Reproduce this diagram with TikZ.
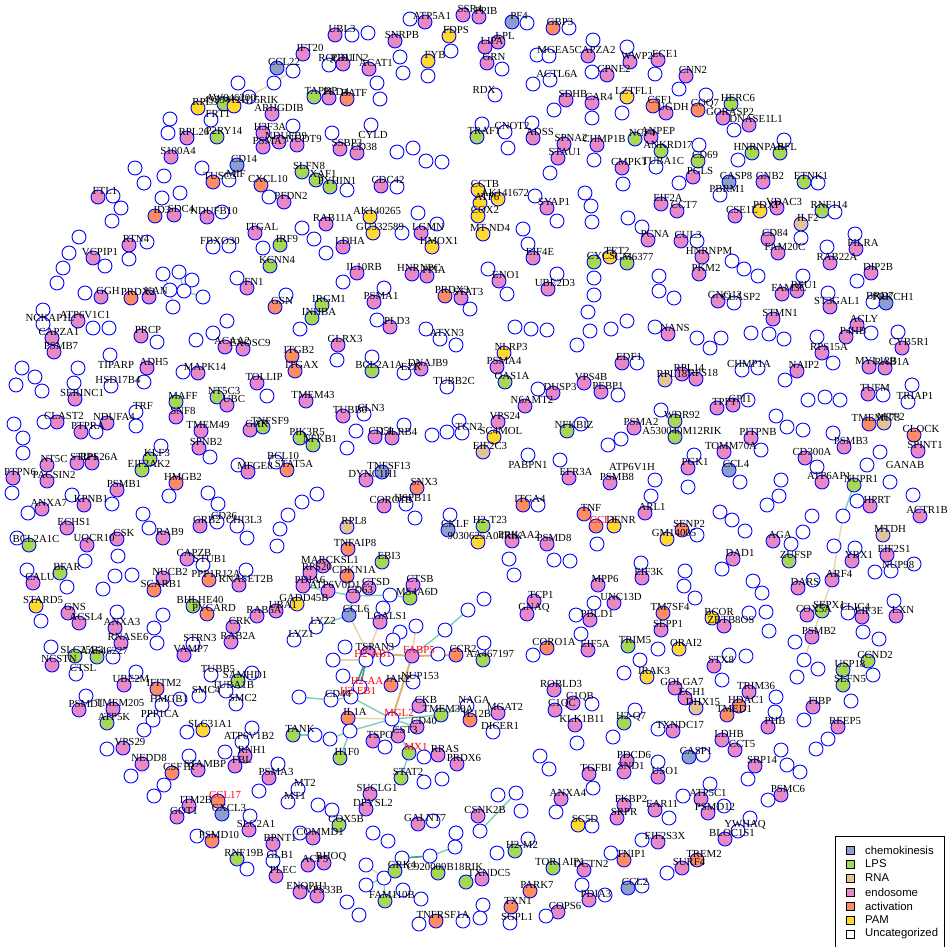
\documentclass[tikz,border=0pt]{standalone}
\usepackage{fontspec}
\setmainfont{Liberation Serif}
\newfontfamily\legfont{Liberation Sans}
\pgfdeclarelayer{bg}
\pgfsetlayers{bg,main}
\definecolor{cu}{HTML}{FFFFFF}
\definecolor{cc}{HTML}{8DA0CB}
\definecolor{cl}{HTML}{A6D854}
\definecolor{cr}{HTML}{E5C494}
\definecolor{ce}{HTML}{E78AC3}
\definecolor{ca}{HTML}{FC8D62}
\definecolor{cp}{HTML}{FFD92F}
\definecolor{edteal}{HTML}{7FCDB8}
\definecolor{eddark}{HTML}{3E9E8A}
\definecolor{edtan}{HTML}{EAD2A6}
\definecolor{edtand}{HTML}{D8B46E}
\definecolor{vblue}{HTML}{0000FF}
\tikzset{
  vtx/.style={circle,draw=vblue,line width=0.9pt,minimum size=14pt,inner sep=0pt},
  lbl/.style={inner sep=0pt,font=\fontsize{10.8}{12}\selectfont,text=black},
  eteal/.style={draw=edteal,line width=1.4pt},
  edark/.style={draw=eddark,line width=1.6pt},
  etan/.style={draw=edtan,line width=1.4pt},
  etand/.style={draw=edtand,line width=2pt},
  legsq/.style={draw=black,line width=0.5pt,minimum size=8pt,inner sep=0pt},
  legtx/.style={anchor=west,inner sep=0pt,font=\legfont\fontsize{11.3}{13}\selectfont}
}
\newcommand\genlist{
425/22/e/ATP5A1,410/19/u/{},463/15/e/SSR4,479/17/e/PPIB,335/35/e/UBL3,352/35/u/{},368/33/u/{},395/41/e/SNRPB,
449/36/p/FDPS,451/51/u/{},428/61/p/FYB,400/57/u/{},403/73/u/{},428/76/u/{},303/54/e/IFT20,329/65/u/RQCD1,
343/64/e/PDLIN2,369/69/e/ACAT1,277/68/c/CCL22,274/83/u/{},238/83/u/{},198/108/p/RPL3,
224/104/l/AW046200,234/106/p/4933412H15RIK,170/119/u/{},168/133/u/{},272/114/e/ARHGDIB,
314/97/l/TAPBP,329/98/e/PLD4,347/99/a/BATF,380/99/u/{},377/83/u/{},187/138/e/RPL26,217/137/l/P2RY14,
293/126/u/{},263/133/e/H3F3A,279/142/e/NDUFB9,263/147/e/PSMA7,297/145/e/NUDT9,332/133/u/{},371/125/u/{},
340/149/e/SSBP3,357/153/e/CD38,397/152/u/{},413/148/u/{},426/161/u/{},442/162/u/{},171/157/e/S100A4,
237/165/c/CD14,202/168/u/{},213/182/a/TUSC3,229/180/u/MIF,261/185/a/CXCL10,302/172/l/SLFN8,316/180/l/XAF1,
330/187/l/PYHIN1,347/190/u/{},381/186/e/CDC42,397/187/u/{},98/197/e/FTL1,113/196/u/{},121/208/u/{},112/221/u/{},
135/168/u/{},144/183/u/{},164/176/u/{},162/198/u/{},180/193/u/{},155/216/a/ID3,174/215/e/SDC4,207/217/e/NDUFB10,
222/212/u/{},284/202/e/PFDN2,269/197/u/{},326/224/e/RAB11A,302/228/u/{},314/239/u/{},326/253/u/{},
370/217/p/AK140265,373/233/p/GU332589,421/233/e/LGMN,402/233/u/{},418/213/u/{},437/224/u/{},432/247/p/HMOX1,
343/247/e/LDHA,255/233/e/ITGAL,280/245/l/IRF9,263/248/u/{},270/266/l/KCNN4,213/247/u/FBXO30,229/246/u/{},
129/245/e/RTN4,147/242/u/{},129/259/u/{},93/258/e/VCPIP1,105/266/u/{},79/237/u/{},69/253/u/{},63/268/u/{},57/283/u/{},
357/273/e/IL10RB,343/282/u/{},412/274/e/HNRNPC,427/276/e/PPIA,247/288/e/FN1,237/278/u/{},101/297/e/GGH,
131/298/a/PRDX2,149/297/e/KAN,85/293/u/{},275/307/a/GSN,286/295/u/{},322/305/l/IRGM1,312/318/l/INHBA,300/329/u/{},
374/302/e/PSMA1,384/288/u/{},445/296/a/PRDX3,461/298/e/STAT3,470/309/u/{},390/327/e/PLD3,377/320/u/{},
440/339/u/ATXN3,426/329/u/{},456/345/u/{},43/310/u/{},43/324/u/NCKAP1L,78/321/e/ATP6V1C1,93/328/u/{},109/328/u/{},
52/338/e/CAPZA1,54/352/e/PSMB7,141/336/e/PRCP,157/342/u/{},225/347/e/ACAA2,243/349/e/EXOSC9,196/340/u/{},
213/333/u/{},227/321/u/{},292/356/a/ITGB2,295/371/a/ITGAX,338/345/e/GLRX3,337/360/u/{},372/371/l/BCL2A1A,
372/357/u/{},421/369/e/DNAJB9,404/373/u/EZR,447/387/u/TUBB2C,110/355/u/{},147/368/e/ADH5,111/386/u/HSD17B4,
144/382/u/{},198/373/e/MAPK14,183/372/u/{},257/383/e/TOLLIP,267/396/u/{},22/368/u/{},35/377/u/{},16/385/u/{},
42/391/u/{},78/368/u/{},74/383/u/{},75/399/e/SERINC1,217/397/l/NT5C3,227/405/e/UBC,176/402/l/MAFF,176/417/e/SNF8,
306/401/e/TMEM43,343/416/e/TUBB6,364/414/u/CLN3,57/422/e/CLAST2,44/422/u/{},107/423/e/NDUFA4,81/432/e/PTPRA,
96/432/u/{},136/412/u/TRF,136/426/u/{},201/431/e/TMEM49,250/430/e/GAK,263/427/l/TNFSF9,300/438/l/PIK3R5,
313/445/l/NFKB1,375/437/e/CD5L,392/438/e/LILRB4,356/431/u/{},347/448/u/{},404/425/u/{},432/435/u/{},447/432/u/{},
459/421/u/{},199/448/e/SPNB2,210/457/u/{},14/424/u/{},23/438/u/{},23/453/u/{},161/446/u/{},150/459/l/KLF3,
47/465/e/NT5C,77/463/e/STIP1,92/463/e/RPS26A,287/470/a/STAT5A,276/462/u/BCL10,238/465/u/{},248/472/e/MFGE8,
142/470/l/EIF2AK2,382/472/c/TNFSF13,366/480/e/DYNC1H1,
512/22/c/PF4,527/23/u/{},553/28/a/GBP3,569/28/u/{},498/42/e/LPL,485/47/e/LIPA,487/63/e/GRN,502/69/u/{},
537/55/u/{},549/56/u/MGEA5,588/56/e/CAPZA2,593/40/u/{},630/62/e/WWP2,658/60/e/ECE1,627/47/u/{},655/74/u/{},
533/84/u/{},550/80/u/ACTL6A,607/75/e/CPNE2,592/72/u/{},686/76/e/CNN2,679/89/u/{},495/95/u/{},566/100/e/SDHB,
592/103/e/CAR4,627/97/p/LZTFL1,554/110/u/{},592/118/u/{},622/113/u/{},653/106/a/CSF1,666/113/e/UGDH,
698/110/a/COQ7,731/104/l/HERC6,723/118/e/GORASP2,749/125/e/DNASE1L1,706/95/u/{},734/130/u/{},505/132/u/CNOT2,
532/123/u/{},508/148/u/{},482/124/u/{},477/137/l/TRAF1,533/138/e/ADSS,564/144/e/SPNA2,597/145/e/CHMP1B,
635/139/l/NCF4,651/137/e/ANPEP,661/151/l/ANKRD17,699/145/u/{},558/158/e/STAU1,594/160/u/{},550/173/u/{},
622/168/e/CMPK1,656/167/u/TUBA1C,698/161/l/CD69,752/153/l/HNRNPAB,780/153/l/RFL,784/140/u/{},738/160/u/{},
693/177/e/PGLS,679/183/u/{},623/184/u/{},729/182/c/CASP8,720/195/u/PBRM1,763/182/e/GNB2,804/182/l/ETNK1,
818/183/u/{},735/216/e/CSE1L,760/211/p/PDXP,777/208/e/VDAC3,822/211/l/RNF114,835/212/u/{},801/224/r/ILF2,
801/238/u/{},768/239/e/CD84,778/253/e/FAM20C,856/249/e/PILRA,855/234/u/{},827/247/u/{},830/263/e/RAB22A,
871/273/e/DIP2B,857/281/u/{},594/262/l/CYCS,610/257/p/TET2,627/263/l/GM6377,594/278/u/{},594/295/u/{},588/312/u/{},
648/240/e/PCNA,681/241/e/CUL3,697/241/u/{},702/257/e/HNRNPM,732/261/u/{},699/274/e/PKM2,744/269/u/{},758/276/u/{},
659/276/u/{},659/291/u/{},674/298/u/{},718/301/e/GNG12,734/303/u/CLASP2,782/294/e/FAM3C,797/291/e/RSU1,
803/276/u/{},830/307/e/ST3GAL1,828/293/u/{},873/302/u/BRD7,886/303/c/PRKCH1,773/319/e/STMN1,547/208/e/SYAP1,
535/196/u/{},557/221/u/{},585/193/u/{},591/206/u/{},592/222/u/{},661/204/e/EIF2A,677/211/e/CCT7,628/218/u/{},
642/227/u/{},499/281/e/ENO1,488/269/u/{},507/294/u/{},548/289/e/UBE2D3,557/274/u/{},533/258/e/EIF4E,523/229/u/{},
528/244/u/{},478/190/p/CCTB,498/199/p/AK141672,480/203/p/ATP6,478/216/p/COX2,483/234/p/MT-ND4,
515/327/u/{},531/329/u/{},547/330/u/{},668/334/e/NANS,655/327/u/{},577/345/u/{},590/331/u/{},611/329/u/{},
627/321/u/{},697/338/u/{},710/348/u/{},721/338/u/{},751/333/u/{},769/334/u/{},784/339/u/{},857/325/e/ACLY,
846/337/e/P4HB,871/333/u/{},817/337/u/{},898/332/u/{},902/348/e/CYB5R1,822/353/e/RPS15A,833/363/u/{},
869/367/e/MYL12B,885/368/e/RAB1A,797/371/e/NAIP2,785/380/u/{},742/370/u/CHMP1A,758/368/u/{},504/353/p/NLRP3,
497/367/e/PSMA4,505/382/l/OAS1A,622/363/e/EDF1,637/363/u/{},682/374/e/RPL14,665/380/r/RPL18,696/379/e/RPS18,
584/383/e/VPS4B,601/392/e/PEBP1,618/395/u/{},553/393/e/DUSP3,538/389/u/{},525/406/e/N6AMT2,498/422/e/VPS24,
494/437/p/SC4MOL,483/452/r/EIF2C3,567/431/l/NFKBIZ,581/424/u/{},634/428/e/PSMA2,675/421/l/WDR92,
675/437/l/A530040M12RIK,661/410/u/{},717/408/e/TPP1,733/405/e/GPI1,748/400/u/{},751/438/e/PITPNB,
724/452/e/TOMM70A,761/450/u/{},694/455/u/{},868/394/e/TUFM,883/395/u/{},908/402/u/TRIAP1,912/385/u/{},
869/424/a/TMEM173,884/423/r/MTF2,914/435/a/CLOCK,918/451/e/SPINT1,844/447/e/PSMB3,833/433/u/{},880/452/u/{},
867/465/u/{},805/458/e/CD300A,803/430/u/{},787/427/u/{},776/416/u/{},808/400/u/{},825/397/u/{},840/400/u/{},
817/467/u/{},528/455/u/{},569/478/e/EFR3A,610/483/e/PSMB8,688/468/e/PGK1,729/470/c/CCL4,608/445/u/{},
621/439/u/{},560/460/u/{},462/433/u/TCN2,
13/478/e/PTPN6,47/481/e/PACSIN2,117/490/e/PSMB1,176/483/a/HMGB2,12/493/u/{},72/495/u/{},112/504/u/{},28/513/u/{},
42/509/e/ANXA7,84/505/e/KPNB1,67/528/e/ECHS1,87/545/e/UQCR10,117/539/e/CSK,29/545/l/BCL2A1C,17/538/u/{},
163/538/e/RAB9,143/514/u/{},149/528/u/{},169/496/u/{},200/526/e/GRB2,217/522/u/CD36,237/526/u/CHI3L3,
247/538/u/{},208/493/u/{},218/504/u/{},85/561/u/{},118/556/u/{},60/573/l/BFAR,27/570/u/{},67/587/u/{},
33/583/e/CALU,187/559/e/CAPZB,203/565/u/STUB1,163/578/e/NUCB2,209/580/a/PPP1R12A,239/585/e/RNASET2B,
246/570/u/{},154/590/a/SCARB1,103/589/u/{},115/576/u/{},132/575/u/{},36/606/p/STARD5,41/621/u/{},68/613/e/GNS,
79/623/e/ACSL4,115/628/e/ANXA3,117/612/u/{},121/643/e/RNASE6,157/643/u/{},154/628/u/{},163/615/u/{},
193/606/l/BHLHE40,207/614/a/PYCARD,257/616/e/RAB5A,276/611/e/UBA1,297/604/p/GADD45B,233/627/e/CRK,
193/644/u/STRN3,231/642/e/RAB2A,184/655/e/VAMP7,52/665/e/NCSTN,75/656/l/SLC25B3,97/657/l/AA546227,51/647/u/{},
113/657/u/{},76/674/u/CTSL,124/685/e/UBE2M,157/689/a/IFITM2,136/672/u/{},211/675/u/TUBB5,238/681/l/SAMHD1,
252/673/u/{},226/691/u/TUBA1B,199/696/u/SMC4,236/704/u/SMC2,79/710/e/PSMD1,113/709/e/TMEM205,86/696/u/{},
162/705/u/HMGB1,180/699/u/{},107/723/l/ATP5K,153/720/u/PPP1CA,144/730/u/{},203/730/p/SLC31A1,187/732/u/{},
252/728/u/{},242/742/u/ATP6V1B2,245/756/e/RNH1,225/752/u/{},123/748/e/VPS29,107/749/u/{},142/764/e/NEDD8,
131/776/u/{},172/773/a/CSF1R,198/770/e/STAMBP,235/766/e/FBL,189/756/u/{},164/785/u/{},154/796/u/{},
269/778/e/PSMA3,278/764/u/{},259/791/u/{},298/789/u/MT2,288/802/u/MT1,218/801/a/\textcolor{red}{CCL17},
189/806/e/ITM2B,177/817/e/GOT1,222/814/c/CXCL3,250/816/u/{},249/830/e/SLC2A1,212/841/a/PSMD10,197/836/u/{},
273/844/e/BPNT1,313/838/e/COMMD1,300/833/u/{},318/805/u/{},332/810/u/{},339/825/l/COX5B,237/859/l/RNF19B,
273/861/u/GLB1,247/869/u/{},308/865/e/ACP5,324/863/e/RHOQ,276/876/e/PLEC,300/892/e/ENOPH1,317/896/e/VPS33B,
347/902/u/{},359/915/u/{},370/794/e/SUCLG1,366/809/e/DPYSL2,418/824/e/GALNT7,433/821/u/{},373/833/u/{},
388/841/u/{},456/833/u/{},436/921/a/TNFRSF1A,419/924/u/{},463/921/u/{},466/882/l/{},
317/494/u/{},302/502/u/{},288/515/u/{},280/529/u/{},277/546/u/{},417/488/a/SNX3,384/506/e/CORO1B,
406/504/u/HSPB11,415/518/u/{},450/515/u/{},448/530/c/CKLF,478/542/p/9030625A04RIK,
822/482/e/ATP6AP1,890/482/u/{},870/506/e/HPRT,857/501/u/{},920/516/e/ACTR1B,913/495/u/{},883/535/r/MTDH,
887/555/e/EIF2S1,891/571/u/NUP98,852/561/e/YBX1,855/548/u/{},834/546/u/{},875/572/u/{},914/564/u/{},
798/588/e/DARS,813/580/u/{},773/541/e/AGA,791/544/u/{},803/532/u/{},812/516/u/{},789/561/l/ZUFSP,733/559/e/DAD1,
722/569/u/{},720/512/u/{},732/520/u/{},745/531/u/{},767/505/u/{},779/496/u/{},781/480/u/{},740/482/u/{},
584/514/a/TNF,596/526/a/\textcolor{red}{CCL1},614/526/p/DENR,597/544/u/{},645/513/e/ARL1,651/496/u/{},
682/530/a/SENP2,667/539/p/GM14005,697/535/u/{},523/505/a/ITGA4,538/505/u/{},483/526/l/H2-T23,512/541/e/PRKAA2,
547/544/e/PSMD8,509/559/u/{},514/575/u/{},554/560/u/{},570/561/u/{},642/578/e/EIF3K,641/563/u/{},685/571/u/{},
684/586/u/{},695/598/u/{},598/585/e/MPP6,614/603/e/UNC13D,594/603/u/{},534/601/e/TCP1,527/614/e/GNAQ,
484/599/u/{},590/620/e/PBLD1,576/615/u/{},581/634/u/{},663/613/a/TM7SF4,661/630/e/SEPP1,712/618/p/BCOR,
724/626/e/ZBTB8OS,749/613/u/{},753/581/u/{},762/593/u/{},766/612/u/{},769/631/u/{},807/615/e/COX5A,
822/611/l/SEPX1,848/613/u/CLIC4,862/617/e/EIF3E,896/616/e/LXN,894/601/u/{},879/639/u/{},863/632/u/{},
812/637/e/PSMB2,795/642/u/{},547/648/a/CORO1A,588/650/e/EIF5A,533/655/u/{},484/643/u/{},483/660/l/AA467197,
628/646/l/TRIM5,679/649/p/ORAI2,658/649/u/{},640/660/u/{},647/677/p/IRAK3,624/673/u/{},714/666/e/STX8,
729/655/u/{},746/656/u/{},722/680/u/{},868/661/l/CCND2,843/670/l/USP18,843/685/l/SLFN5,873/675/u/{},
851/701/u/{},818/669/u/{},797/677/u/{},813/707/e/FIBP,804/720/u/{},838/727/e/REEP5,828/739/u/{},816/749/u/{},
749/692/e/TRIM36,776/697/u/{},775/712/u/{},768/727/e/PHB,739/706/a/HDAC1,727/715/a/TMED1,696/708/r/DHX15,
685/698/e/ECH1,675/688/e/GOLGA7,554/690/e/ROBLD3,573/703/e/C1QB,555/710/e/C1QC,592/704/u/{},575/725/e/KLK1B11,
577/743/u/{},540/756/u/{},549/769/u/{},613/737/u/{},624/723/l/H2-Q7,635/710/u/{},673/731/e/TXNDC17,658/729/u/{},
722/740/e/LDHB,735/750/e/CCT5,689/757/c/CASP1,703/755/u/{},755/766/e/SRP14,748/779/u/{},781/750/u/{},
787/765/u/{},800/772/u/{},781/795/e/PSMC6,768/800/u/{},701/799/e/ATP5C1,708/813/e/PSMD12,710/784/u/{},
683/796/u/{},724/806/u/{},738/831/u/YWHAQ,725/839/e/BLOC1S1,750/818/u/{},627/761/e/PDCD6,589/774/e/TGFBI,
624/772/e/SND1,658/777/e/USO1,658/762/u/{},593/788/u/{},561/799/e/ANXA4,556/812/u/{},624/805/e/FKBP2,
655/810/e/EAR11,617/818/e/SRPR,669/818/u/{},578/825/p/SC5D,592/826/u/{},658/842/e/EIF2S3X,642/840/u/{},
624/860/a/TNIP1,611/853/u/{},697/860/a/TREM2,682/868/e/SURF4,667/873/u/{},515/851/l/H2-M2,497/853/u/{},
528/839/u/{},553/868/l/TOR1AIP1,584/870/e/DCTN2,582/885/u/{},605/895/u/{},628/888/c/CCL2,642/886/u/{},
589/900/e/PDIA3,530/891/a/PARK7,511/907/a/TXN1,510/923/u/SGPL1,558/912/e/COPS6,546/916/u/{},482/879/e/TXNDC5,
478/816/e/CSNK2B,498/795/u/{},521/811/u/{},483/905/u/{},480/918/u/{},688/487/u/{},655/480/u/{},
498/713/e/MGAT2,493/732/u/DICER1,470/720/a/IL12B}
\newcommand\namedlist{
ccl6/349/615/c/CCL6,lgals1/380/622/e/LGALS1,lyz2/316/627/u/LYZ2,lyz1/294/640/u/LYZ1,
tnfaip8/348/549/a/TNFAIP8,rpl8/347/527/r/RPL8,marcksl1/323/566/e/MARCKSL1,rps20/310/573/e/RPS20,
cdkn1a/347/576/a/CDKN1A,ebi3/382/562/l/EBI3,pdia6/303/586/e/PDIA6,atpvd/328/591/e/ATP6V0D1,
cd63/353/596/e/CD63,ctsd/369/588/e/CTSD,ctsb/413/585/e/CTSB,ms4a6d/410/598/l/MS4A6D,
ea/390/595/u/{},eb/383/608/u/{},ec/416/626/u/{},ed/400/632/u/{},ee/393/640/u/{},ef/445/630/u/{},eg/468/610/u/{},
eh/345/647/u/{},ei/333/660/u/{},ej/387/659/u/{},ek/438/654/u/{},
tspan/368/653/e/TSPAN3,hab/366/660/u/\textcolor{red}{H2-AB1},fabp/412/656/e/\textcolor{red}{FABP5},
ccr/456/655/a/CCR2,haa/360/687/u/\textcolor{red}{H2-AA},jak/391/685/a/JAK2,nup/413/682/u/NUP153,
heb/351/697/u/\textcolor{red}{H2-EB1},el/343/676/u/{},cdff/331/700/u/CD44,ila/348/718/a/IL1A,
mgl/392/719/u/\textcolor{red}{MGL2},ckb/419/706/e/CKB,tmem/441/715/l/TMEM39A,cdf/417/727/e/CD40,
cst/398/736/e/CST3,tspo/373/741/e/TSPO,mx/409/753/l/\textcolor{red}{MX1},rras/438/755/e/RRAS,
prdx/457/764/e/PRDX6,em/424/757/u/{},stat/401/778/l/STAT2,hf/340/758/l/H1F0,en/350/731/u/{},
eo/385/747/u/{},ep/442/779/u/{},eq/424/782/u/{},er/299/697/u/{},tank/293/735/l/TANK,es/315/735/u/{},
et/330/739/u/{},naga/467/706/u/NAGA,
ka/163/274/u/{},kb/179/272/u/{},kc/192/280/u/{},kd/170/290/u/{},ke/184/291/u/{},kf/203/297/u/{},kg/173/307/u/{},
ga/402/858/u/{},gb/430/856/u/{},gc/455/847/u/{},gd/384/878/u/{},ge/366/885/u/{},gf/403/890/u/{},
gg/366/865/u/{},gh/421/899/u/{},grk/395/871/l/GRK4,gcr/438/873/l/C920009B18RIK,fam/385/901/l/FAM110B,
nupr/854/485/l/NUPR1,nupe/843/516/u/{},arf/832/580/e/ARF4,arfe/804/660/u/{},
csa/516/793/u/{},csb/480/831/u/{},
ccla/293/71/u/{},cclb/249/97/u/{},frt/211/120/u/FRT1}
\begin{document}
\begin{tikzpicture}[x=1pt,y=-1pt]
\useasboundingbox (0,0) rectangle (950,946);
% ---------- nodes ----------
\foreach \x/\y/\c/\t [count=\i] in \genlist {
  \node[vtx,fill=c\c] (v\i) at (\x,\y) {};
}
\foreach \n/\x/\y/\c/\t in \namedlist {
  \node[vtx,fill=c\c] (\n) at (\x,\y) {};
}
% ---------- labels (on top of all circles) ----------
\foreach \x/\y/\c/\t [count=\i] in \genlist {
  \node[lbl] (vl\i) at (\x+7,\y-6) {\t};
}
\foreach \n/\x/\y/\c/\t in \namedlist {
  \node[lbl] (\n-l) at (\x+7,\y-6) {\t};
}
\node[lbl] (fl1) at (373,135) {CYLD};
\node[lbl] (fl2) at (116,365) {TIPARP};
\node[lbl] (fl3) at (484,90) {RDX};
\node[lbl] (fl4) at (528,465) {PABPN1};
\node[lbl] (fl5) at (905,465) {GANAB};
\node[lbl] (fl6) at (632,467) {ATP6V1H};
% ---------- edges ----------
\begin{pgfonlayer}{bg}
\fill[white] (0,0) rectangle (950,946);
\draw[eteal] (ccl6) -- (lyz2);
\draw[eteal] (ccl6) -- (cd63);
\draw[eteal] (atpvd) -- (cd63);
\draw[eteal] (cd63) -- (ea);
\draw[eteal] (ea) -- (ms4a6d);
\draw[eteal] (pdia6) -- (atpvd);
\draw[etan] (ccl6) -- (tspan);
\draw[etan] (lgals1) -- (tspan);
\draw[etan] (eb) -- (lgals1);
\draw[etand] (tspan) -- (fabp);
\draw[etan] (hab) -- (ei);
\draw[etand] (fabp) -- (ccr);
\draw[eteal] (fabp) -- (ef);
\draw[eteal] (ef) -- (eg);
\draw[etan] (fabp) -- (ec);
\draw[edark] (tspan) -- (haa);
\draw[edark] (hab) -- (heb);
\draw[eteal] (haa) -- (heb);
\draw[eteal] (heb) -- (mgl);
\draw[etand] (fabp) -- (mgl);
\draw[eteal] (cdff) -- (heb);
\draw[eteal] (er) -- (cdff);
\draw[etan] (ila) -- (mgl);
\draw[eteal] (mgl) -- (tmem);
\draw[eteal] (mgl) -- (cdf);
\draw[eteal] (mgl) -- (mx);
\draw[eteal] (mgl) -- (cst);
\draw[eteal] (mgl) -- (en);
\draw[eteal] (ila) -- (en);
\draw[eteal] (en) -- (hf);
\draw[eteal] (en) -- (et);
\draw[eteal] (tank) -- (es);
\draw[eteal] (tmem) -- (naga);
\draw[eteal] (mx) -- (stat);
\draw[etan] (rras) -- (prdx);
\draw[etan] (em) -- (rras);
\draw[eteal] (ka) -- (kd);
\draw[eteal] (kb) -- (ke);
\draw[eteal] (kd) -- (ke);
\draw[eteal] (ke) -- (kf);
\draw[eteal] (kd) -- (kg);
\draw[eteal] (kc) -- (ke);
\draw[edark] (ga) -- (gb);
\draw[eteal] (gb) -- (gc);
\draw[eteal] (grk) -- (gd);
\draw[eteal] (gd) -- (ge);
\draw[eteal] (fam) -- (gd);
\draw[eteal] (gf) -- (fam);
\draw[etan] (gg) -- (gd);
\draw[eteal] (nupr) -- (nupe);
\draw[etan] (nupe) -- (arf);
\draw[etan] (arf) -- (arfe);
\draw[eteal] (csa) -- (csb);
\draw[etan] (ccla) -- (cclb);
\end{pgfonlayer}
% ---------- legend ----------
\draw[black,line width=0.6pt,fill=white] (835,836) rectangle (944,952);
\foreach \c/\t [count=\k] in {cc/chemokinesis,cl/LPS,cr/RNA,ce/endosome,ca/activation,cp/PAM,cu/Uncategorized}{
  \node[legsq,fill=\c] (lq\k) at (850,836+14*\k) {};
  \node[legtx] (lt\k) at (865,836+14*\k) {\t};
}
\end{tikzpicture}
\end{document}
